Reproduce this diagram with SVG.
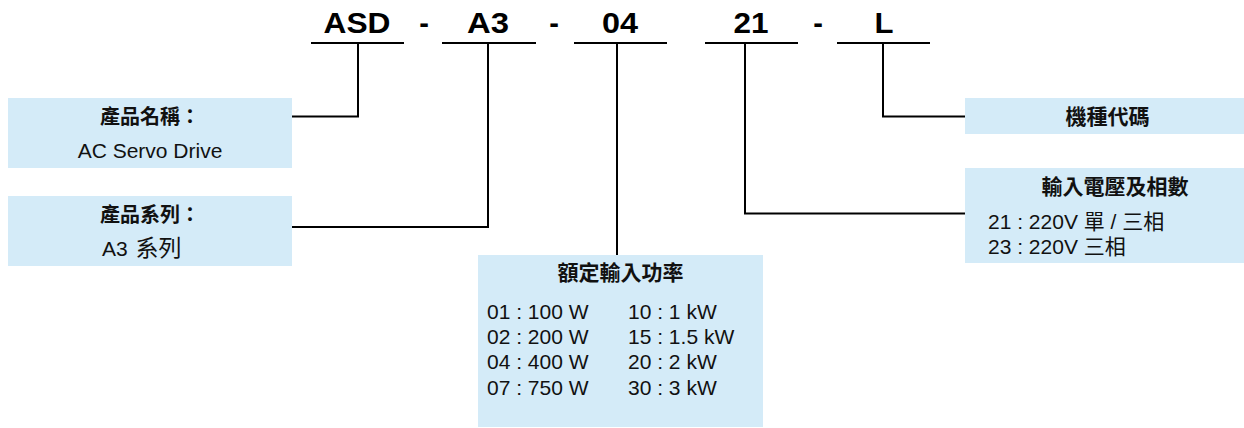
<svg xmlns="http://www.w3.org/2000/svg" width="1244" height="428" viewBox="0 0 1244 428">
<style>
.box{fill:#D4EBF8;stroke:none}
.ln{fill:none;stroke:#000;stroke-width:2}
.hd{font-family:"Liberation Sans",Arial,sans-serif;font-weight:bold;font-size:29px;fill:#000;text-anchor:middle}
.tt{font-family:"Liberation Sans","Noto Sans CJK TC",sans-serif;font-weight:bold;font-size:20px;fill:#111;text-anchor:middle}
.tx{font-family:"Liberation Sans","Noto Sans CJK TC",sans-serif;font-size:21px;fill:#111}
.mid{text-anchor:middle}
</style>
<rect width="1244" height="428" fill="#fff"/>
<g id="header">
<text class="hd" x="357" y="33" textLength="67" lengthAdjust="spacingAndGlyphs">ASD</text>
<text class="hd" x="424" y="33">-</text>
<text class="hd" x="488" y="33" textLength="42" lengthAdjust="spacingAndGlyphs">A3</text>
<text class="hd" x="554" y="33">-</text>
<text class="hd" x="620" y="33" textLength="36" lengthAdjust="spacingAndGlyphs">04</text>
<text class="hd" x="751" y="33" textLength="35" lengthAdjust="spacingAndGlyphs">21</text>
<text class="hd" x="818" y="33">-</text>
<text class="hd" x="884" y="33" textLength="19" lengthAdjust="spacingAndGlyphs">L</text>
<path class="ln" d="M311,43H404M442,43H536M574,43H667M705,43H798M837,43H930"/>
</g>
<g id="connectors">
<path class="ln" d="M358,43V116.5H292"/>
<path class="ln" d="M488,43V227H292"/>
<path class="ln" d="M617,43V255"/>
<path class="ln" d="M745,43V213.5H965"/>
<path class="ln" d="M883,43V116.5H965"/>
</g>
<g id="node-name">
<rect class="box" x="8" y="98" width="284" height="70"/>
<text class="tt" x="150" y="123.5">產品名稱：</text>
<text class="tx mid" x="150" y="158">AC Servo Drive</text>
</g>
<g id="node-series">
<rect class="box" x="8" y="196" width="284" height="70"/>
<text class="tt" x="150" y="221.5">產品系列：</text>
<text class="tx" x="102" y="255.5">A3 <tspan dx="2" style="font-size:23px">系列</tspan></text>
</g>
<g id="node-power">
<rect class="box" x="478" y="255" width="285" height="172"/>
<text class="tt" x="620.5" y="280" style="font-size:21px">額定輸入功率</text>
<text class="tx" x="487" y="318.5">01 : 100 W</text>
<text class="tx" x="487" y="343.5">02 : 200 W</text>
<text class="tx" x="487" y="369">04 : 400 W</text>
<text class="tx" x="487" y="394.5">07 : 750 W</text>
<text class="tx" x="628" y="318.5">10 : 1 kW</text>
<text class="tx" x="628" y="343.5">15 : 1.5 kW</text>
<text class="tx" x="628" y="369">20 : 2 kW</text>
<text class="tx" x="628" y="394.5">30 : 3 kW</text>
</g>
<g id="node-model">
<rect class="box" x="965" y="98" width="279" height="36"/>
<text class="tt" x="1107.5" y="123.5" style="font-size:21px">機種代碼</text>
</g>
<g id="node-voltage">
<rect class="box" x="965" y="168" width="279" height="95"/>
<text class="tt" x="1115" y="194" style="font-size:21px">輸入電壓及相數</text>
<text class="tx" x="988" y="228.5">21 : 220V 單 / 三相</text>
<text class="tx" x="988" y="254">23 : 220V 三相</text>
</g>
</svg>
